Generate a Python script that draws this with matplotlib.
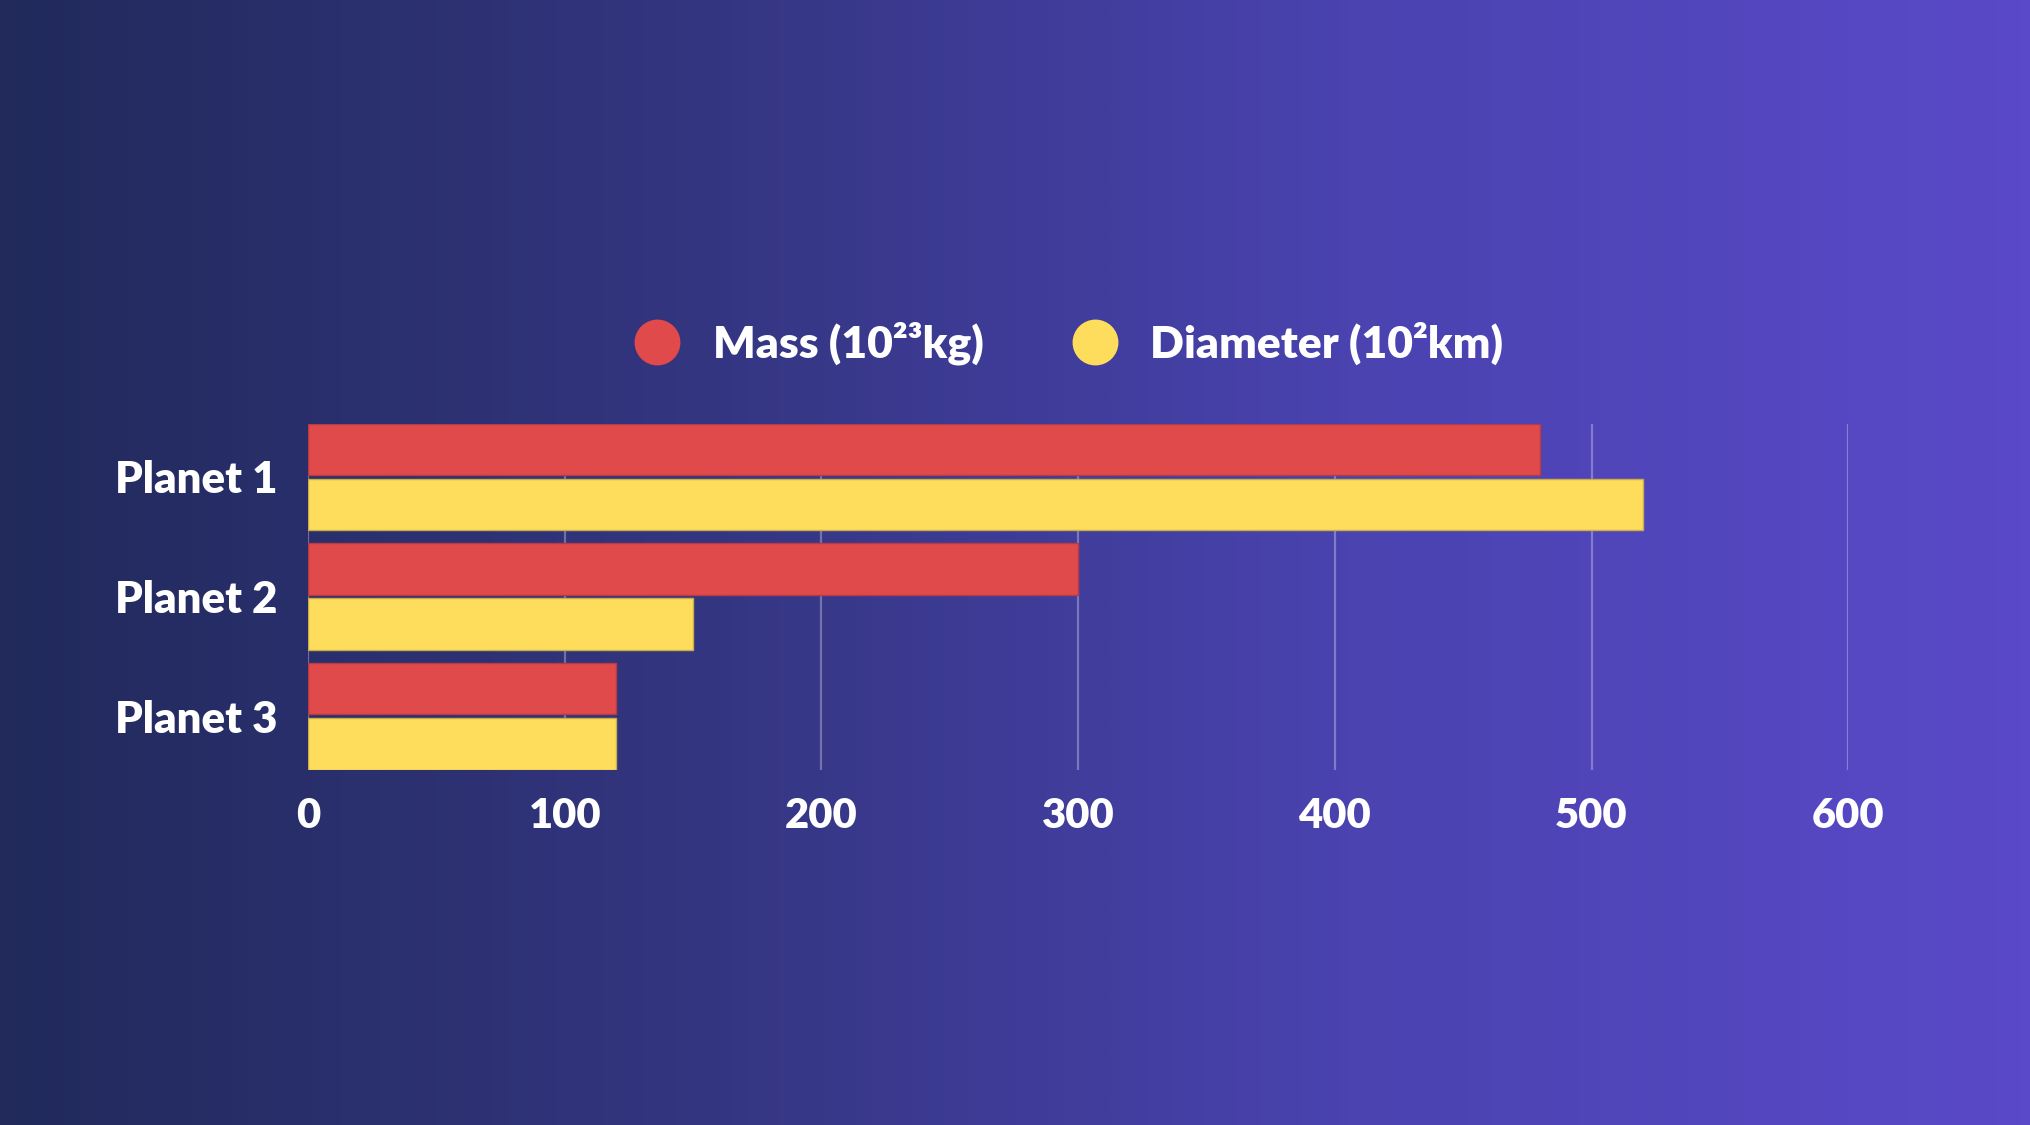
import numpy as np
import matplotlib.pyplot as plt
from matplotlib.colors import LinearSegmentedColormap
from matplotlib.lines import Line2D

planets = ['Planet 1', 'Planet 2', 'Planet 3']
mass = [480, 300, 120]
diameter = [520, 150, 120]
xticks = [0, 100, 200, 300, 400, 500, 600]
series_names = ['Mass (10²³kg)', 'Diameter (10²km)']

red = '#E04A4A'
yellow = '#FFDD5C'

plt.rcParams['font.family'] = ['Lato', 'DejaVu Sans']
plt.rcParams['font.weight'] = 'heavy'

fig = plt.figure(figsize=(20.31, 11.25), dpi=100)

# background gradient
bg = fig.add_axes([0, 0, 1, 1], zorder=0)
cmap = LinearSegmentedColormap.from_list('bg', ['#212a5b', '#33357f', '#4a43b0', '#5a49c8'])
grad = np.linspace(0, 1, 512).reshape(1, -1)
bg.imshow(grad, cmap=cmap, aspect='auto', extent=[0, 1, 0, 1], interpolation='bicubic')
bg.axis('off')

ax = fig.add_axes([0.1517, 0.316, 0.7583, 0.3075], zorder=1)
ax.patch.set_alpha(0)

h = 0.43
off = h / 2 + 0.015
y = np.arange(len(planets))
ax.barh(y - off, mass, height=h, color=red, edgecolor='#b83a44', linewidth=1, zorder=3)
ax.barh(y + off, diameter, height=h, color=yellow, edgecolor='#c9ad4a', linewidth=1, zorder=3)

ax.set_xlim(0, 600)
ax.set_ylim(2 + off + h / 2, -off - h / 2)
ax.set_xticks(xticks)
ax.set_yticks(y)
ax.set_yticklabels(planets)
ax.grid(axis='x', color='white', alpha=0.3, linewidth=1.6, zorder=1)
ax.grid(axis='y', visible=False)
for s in ax.spines.values():
    s.set_visible(False)
ax.tick_params(axis='both', length=0, labelcolor='white')
ax.tick_params(axis='x', pad=20, labelsize=30)
ax.tick_params(axis='y', pad=22, labelsize=31.5)
for t in ax.get_xticklabels() + ax.get_yticklabels():
    t.set_fontweight('heavy')

handles = [Line2D([], [], marker='o', linestyle='none', markersize=32, color=c)
           for c in (red, yellow)]
leg = fig.legend(handles, series_names, loc='center', bbox_to_anchor=(0.521, 0.695),
                 ncol=2, frameon=False, handletextpad=0.25, columnspacing=1.5,
                 prop={'size': 32, 'weight': 'heavy'})
for t in leg.get_texts():
    t.set_color('white')

fig.savefig('out.png', dpi=100)
